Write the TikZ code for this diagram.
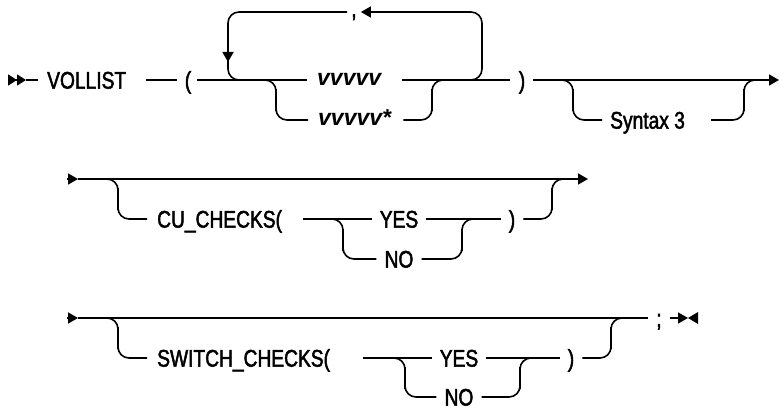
\documentclass[tikz,border=0pt]{standalone}
\usepackage{fontspec}
\setmainfont{Liberation Sans}
\newfontfamily\railfont[FakeStretch=0.8, FakeBold=2]{Liberation Sans}
\usetikzlibrary{arrows.meta}
\tikzset{
    rail/.style={line width=1.6pt, draw=black, rounded corners=11pt},
    railtip/.style={-{Triangle[length=10pt, width=11pt]}},
    kw/.style={
        font=\railfont\fontsize{24}{28}\selectfont,
        inner xsep=8pt, inner ysep=0pt,
        text height=17.2pt, text depth=0pt
    },
    var/.style={
        font=\fontsize{23}{27}\selectfont\bfseries\itshape,
        anchor=west, inner xsep=10pt, inner ysep=0pt,
        text width=75pt, align=left,
        text height=11.9pt, text depth=0pt
    }
}

\begin{document}
\begin{tikzpicture}[x=1pt, y=-1pt]
    \useasboundingbox (0,0) rectangle (779,412);

    % VOLLIST line
    \coordinate (s1) at (8,80);
    \coordinate (s1b) at (26,80);
    \coordinate (s1e) at (38,80);
    \node[kw, anchor=west, inner xsep=0pt] (vollist) at (47,80) {VOLLIST};
    \coordinate (p1) at (146,80);
    \coordinate (p2) at (177,80);
    \node[kw, inner xsep=4pt] (lpar) at (188,80) {(};
    \coordinate (m1) at (197,80);
    \node[var] (vv) at (307,80) {vvvvv};
    \node[var] (vstar) at (308,120) {vvvvv*};
    \coordinate (m2) at (510,80);
    \node[kw] (rpar) at (522,80) {)};
    \coordinate (m3) at (533,80);
    \coordinate (e1) at (779,80);
    \node[kw, inner xsep=4pt, text height=10pt] (sep) at (354,12) {,};
    \coordinate (lpA) at (457,80);
    \coordinate (lpB) at (482,12);
    \coordinate (lpC) at (228,62);
    \coordinate (lpD) at (228,58);
    \coordinate (lpE) at (252,80);
    \coordinate (vA) at (264,80);
    \coordinate (vB) at (276,100);
    \coordinate (vC) at (432,100);
    \coordinate (vD) at (444,80);
    \coordinate (sA) at (561,80);
    \coordinate (sB) at (573,100);
    \node[kw, anchor=west] (syn) at (602,120) {Syntax 3};
    \coordinate (sC) at (744,100);
    \coordinate (sD) at (756,80);

    \draw[rail, -{Triangle[length=9pt, width=11pt] Triangle[length=9pt, width=11pt]}] (s1) -- (s1b);
    \draw[rail] (s1b) -- (s1e);
    \draw[rail] (p1) -- (p2);
    \draw[rail] (m1) -- (vv.west);
    \draw[rail] (vv.east) -- (m2);
    \draw[rail, railtip] (m3) -- (e1);
    \draw[rail, railtip] (lpA) -| (lpB) -- (sep.east);
    \draw[rail, -{Triangle[length=10pt, width=11pt]}] (sep.west) -| (lpC);
    \draw[rail] (lpD) |- (lpE);
    \draw[rail] (vA) -| (vB) |- (vstar.west);
    \draw[rail] (vstar.east) -| (vC) |- (vD);
    \draw[rail] (sA) -| (sB) |- (syn.west);
    \draw[rail] ([xshift=18pt]syn.east) -| (sC) |- (sD);

    % CU_CHECKS line
    \coordinate (s2) at (67,179);
    \coordinate (s2b) at (78,179);
    \coordinate (e2) at (588,179);
    \coordinate (bA2) at (106,179);
    \coordinate (bB2) at (118,199);
    \node[kw, anchor=west, inner xsep=10pt] (cu) at (147,219) {CU\_CHECKS(};
    \coordinate (cu0) at (303,219);
    \node[kw] (yes2) at (399,219) {YES};
    \node[kw] (no2) at (399,259) {NO};
    \coordinate (yA2) at (331,219);
    \coordinate (yB2) at (343,240);
    \coordinate (yC2) at (462,240);
    \coordinate (yD2) at (474,219);
    \node[kw] (rp2) at (512,219) {)};
    \coordinate (rA2) at (552,199);
    \coordinate (rB2) at (564,179);

    \draw[rail, railtip] (s2) -- (s2b);
    \draw[rail, railtip] (s2b) -- (e2);
    \draw[rail] (bA2) -| (bB2) |- (cu.west);
    \draw[rail] (cu0) -- (yes2.west);
    \draw[rail] (yA2) -| (yB2) |- (no2.west);
    \draw[rail] (no2.east) -| (yC2) |- (yD2);
    \draw[rail] (yes2.east) -- (rp2.west);
    \draw[rail] (rp2.east) -| (rA2) |- (rB2);

    % SWITCH_CHECKS line
    \coordinate (s3) at (67,318);
    \coordinate (s3b) at (78,318);
    \coordinate (bA3) at (106,318);
    \coordinate (bB3) at (118,338);
    \node[kw, anchor=west, inner xsep=10pt] (sw) at (147,358) {SWITCH\_CHECKS(};
    \coordinate (sw0) at (363,358);
    \node[kw] (yes3) at (459,358) {YES};
    \node[kw] (no3) at (459,397) {NO};
    \coordinate (yA3) at (393,358);
    \coordinate (yB3) at (405,378);
    \coordinate (yC3) at (520,378);
    \coordinate (yD3) at (532,358);
    \node[kw] (rp3) at (571,358) {)};
    \coordinate (rA3) at (611,338);
    \coordinate (rB3) at (623,318);
    \node[kw] (semi) at (659,318) {;};
    \coordinate (t2) at (688,318);
    \coordinate (t3) at (698,312);
    \coordinate (t4) at (698,324);

    \draw[rail, railtip] (s3) -- (s3b);
    \draw[rail] (s3b) -- (semi.west);
    \draw[rail] (bA3) -| (bB3) |- (sw.west);
    \draw[rail] (sw0) -- (yes3.west);
    \draw[rail] (yA3) -| (yB3) |- (no3.west);
    \draw[rail] (no3.east) -| (yC3) |- (yD3);
    \draw[rail] (yes3.east) -- (rp3.west);
    \draw[rail] (rp3.east) -| (rA3) |- (rB3);
    \draw[rail, railtip] (semi.east) -- (t2);
    \fill (t2) -- (t3) -- (t4) -- cycle;
\end{tikzpicture}
\end{document}
